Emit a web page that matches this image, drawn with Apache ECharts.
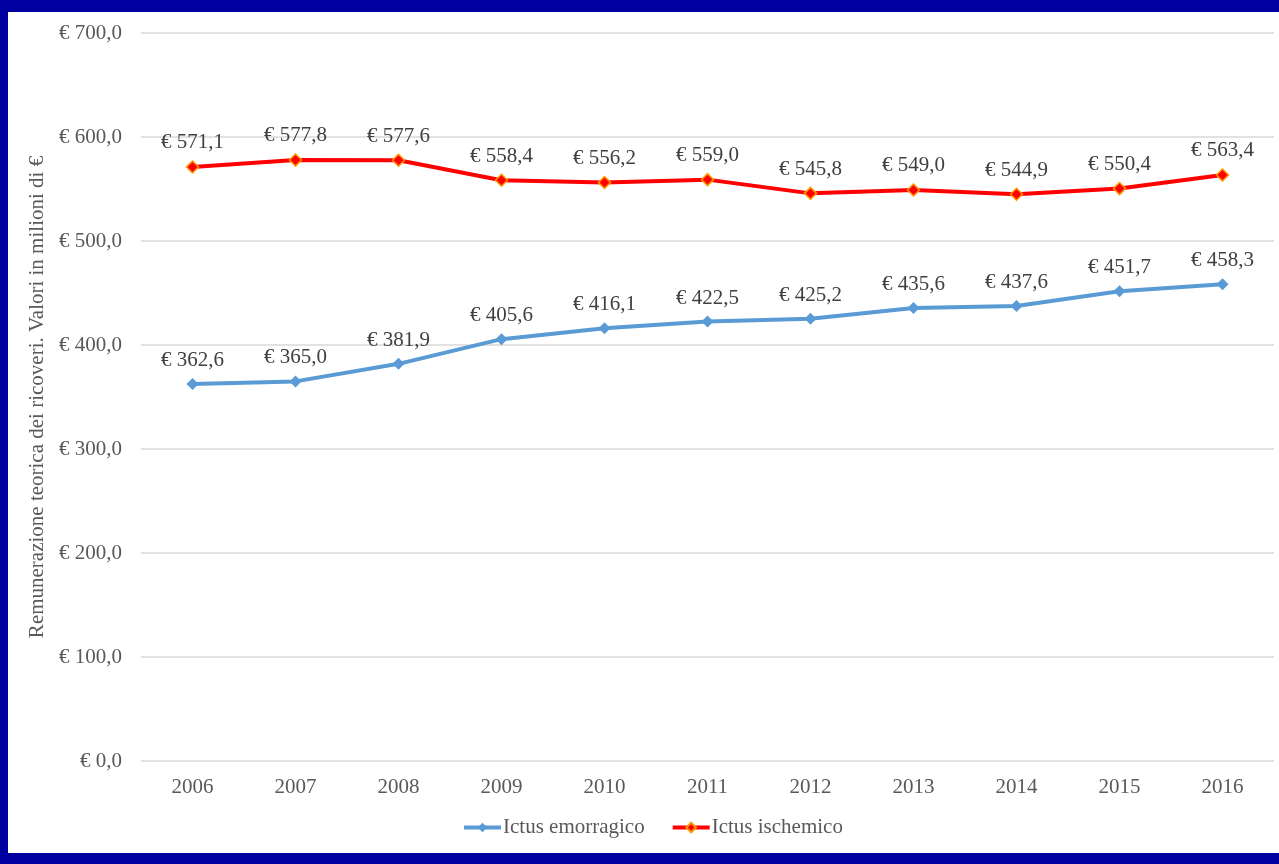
<!DOCTYPE html>
<html>
<head>
<meta charset="utf-8">
<script src="https://cdn.jsdelivr.net/npm/echarts@6/dist/echarts.min.js"></script>
<style>
  html, body { margin: 0; padding: 0; background: #0000A0; width: 1279px; height: 864px; overflow: hidden; }
  #chart { position: absolute; left: 8px; top: 12px; width: 1271px; height: 841px; background: #ffffff; }
</style>
</head>
<body>
<div id="chart"></div>
<script>
// Anni e valori (milioni di €)
const years = ['2006', '2007', '2008', '2009', '2010', '2011', '2012', '2013', '2014', '2015', '2016'];
const emorragico = [362.6, 365.0, 381.9, 405.6, 416.1, 422.5, 425.2, 435.6, 437.6, 451.7, 458.3];
const ischemico = [571.1, 577.8, 577.6, 558.4, 556.2, 559.0, 545.8, 549.0, 544.9, 550.4, 563.4];

const fontFamily = '"Liberation Serif", "DejaVu Serif", serif';
const textColor = '#595959';
const fmt = v => '€ ' + v.toFixed(1).replace('.', ',');

const chart = echarts.init(document.getElementById('chart'));
chart.setOption({
  animation: false,
  textStyle: { fontFamily: fontFamily },
  grid: { left: 133, right: 5, top: 21, bottom: 92 },
  legend: {
    bottom: 10,
    left: 449,
    itemWidth: 37,
    itemHeight: 12,
    itemGap: 26,
    lineStyle: { width: 4 },
    textStyle: { fontFamily: fontFamily, fontSize: 21, color: textColor, padding: [0, 0, 0, -3] },
    data: ['Ictus emorragico', 'Ictus ischemico']
  },
  xAxis: {
    type: 'category',
    data: years,
    boundaryGap: true,
    axisLine: { show: false },
    axisTick: { show: false },
    axisLabel: { fontFamily: fontFamily, fontSize: 21, color: textColor, margin: 16 }
  },
  yAxis: {
    type: 'value',
    min: 0,
    max: 700,
    interval: 100,
    name: 'Remunerazione teorica dei ricoveri. Valori in milioni di €',
    nameLocation: 'middle',
    nameGap: 77,
    nameTextStyle: { fontFamily: fontFamily, fontSize: 21, color: textColor },
    axisLine: { show: false },
    axisTick: { show: false },
    splitLine: { lineStyle: { color: '#d9d9d9', width: 1.5 } },
    axisLabel: { fontFamily: fontFamily, fontSize: 21, color: textColor, margin: 19, formatter: v => fmt(v) }
  },
  series: [
    {
      name: 'Ictus emorragico',
      type: 'line',
      data: emorragico,
      symbol: 'diamond',
      symbolSize: 12,
      lineStyle: { color: '#5B9BD5', width: 4 },
      itemStyle: { color: '#5B9BD5' },
      label: { show: true, position: 'top', distance: 7, fontFamily: fontFamily, fontSize: 21, color: '#404040', formatter: p => fmt(p.value) }
    },
    {
      name: 'Ictus ischemico',
      type: 'line',
      data: ischemico,
      symbol: 'diamond',
      symbolSize: 12,
      lineStyle: { color: '#FF0000', width: 4 },
      itemStyle: { color: '#FF0000', borderColor: '#FF9900', borderWidth: 1.5 },
      label: { show: true, position: 'top', distance: 7, fontFamily: fontFamily, fontSize: 21, color: '#404040', formatter: p => fmt(p.value) }
    }
  ]
});
</script>
</body>
</html>
